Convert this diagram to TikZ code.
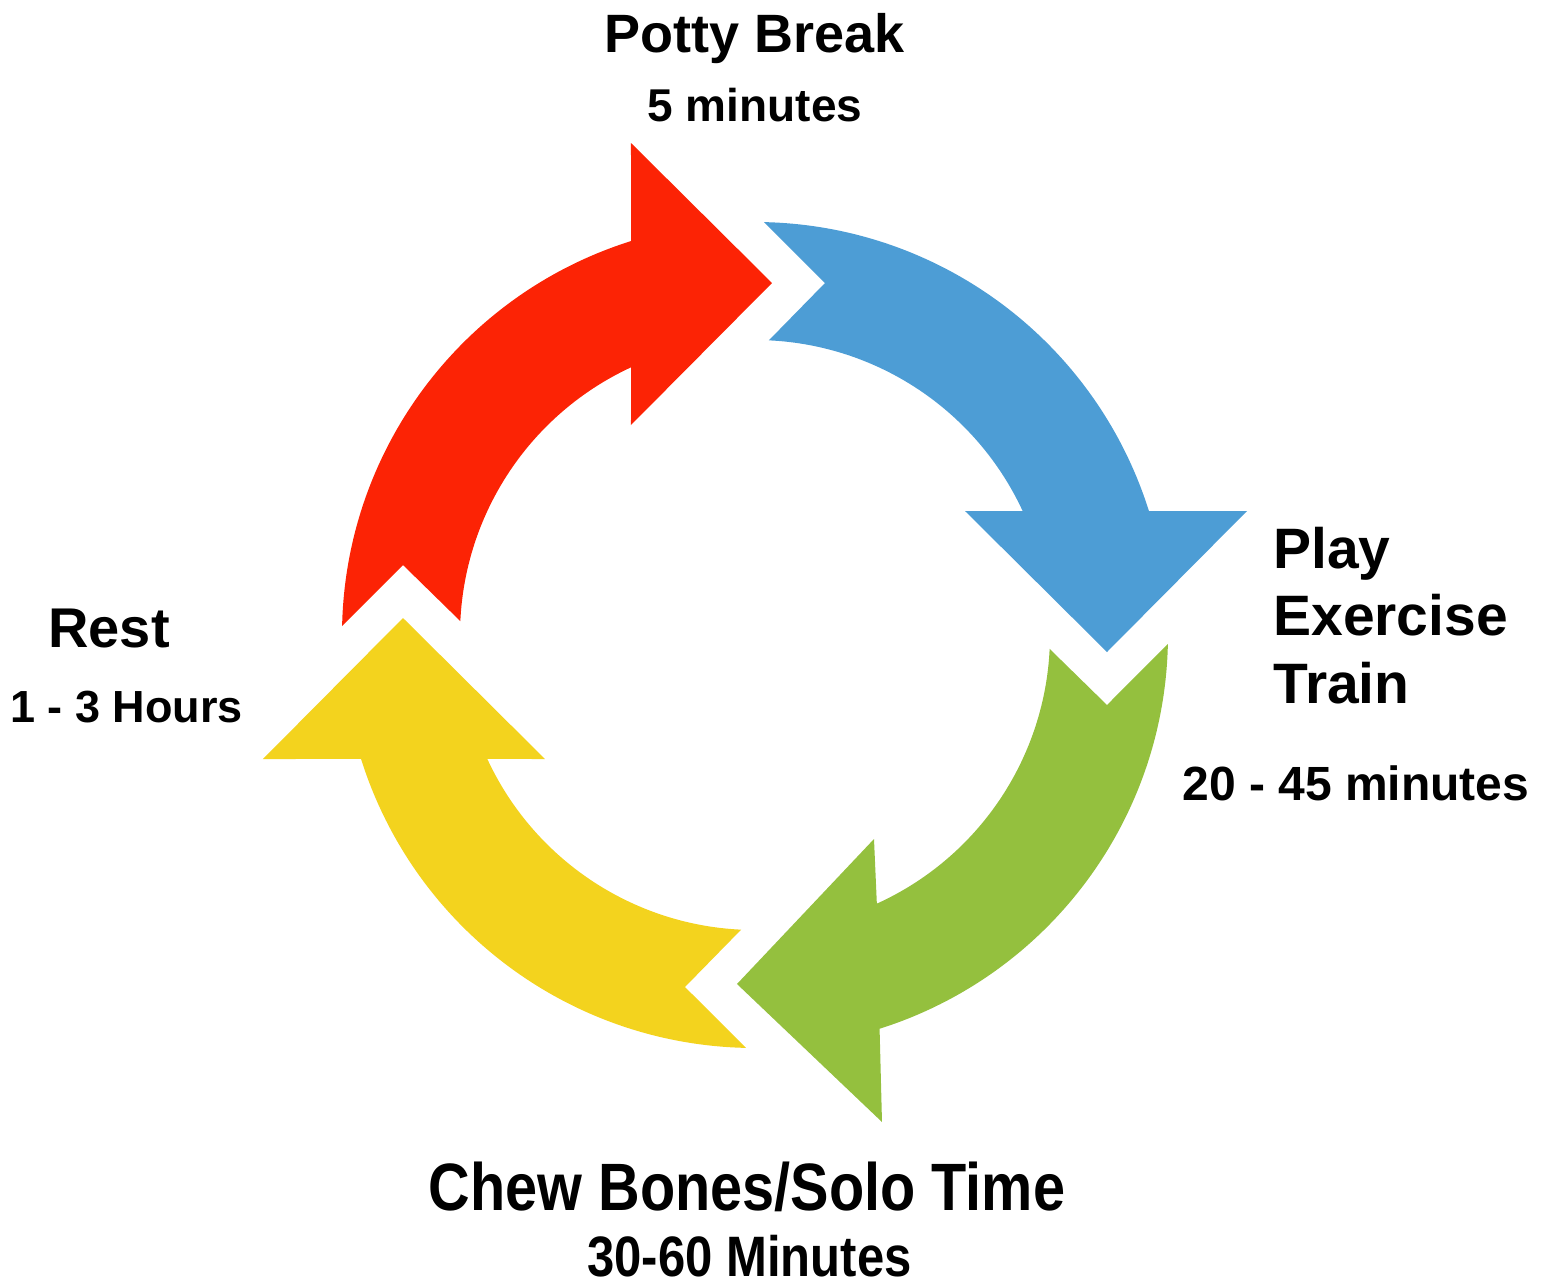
\documentclass[tikz,border=0pt]{standalone}
\usepackage{fontspec}
\setmainfont{Liberation Sans}
\newfontfamily\narrowsans{Liberation Sans}[FakeStretch=0.86]
\definecolor{pottyred}{RGB}{252,35,5}
\definecolor{playblue}{RGB}{77,157,213}
\definecolor{chewgreen}{RGB}{148,192,62}
\definecolor{restyellow}{RGB}{243,211,30}
\tikzset{
  txt/.style 2 args  = {inner sep=0pt, align=left, font=\fontsize{#1}{#2}\selectfont\bfseries},
  narrow/.style 2 args = {inner sep=0pt, font=\narrowsans\fontsize{#1}{#2}\selectfont\bfseries},
}
\begin{document}
\begin{tikzpicture}[x=0.5pt, y=0.5pt]
  \useasboundingbox (-755,-652) rectangle (788,635);
  \fill[pottyred] (178.75:413) arc[start angle=178.75, end angle=107.47, radius=413]
    -- (-124,492) -- (17,352) -- (-124,210)
    -- (114.85:295) arc[start angle=114.85, end angle=177.3, radius=295]
    -- (-352,70) -- cycle;
  \fill[playblue] (88.75:413) arc[start angle=88.75, end angle=17.47, radius=413]
    -- (492,124) -- (352,-17) -- (210,124)
    -- (24.85:295) arc[start angle=24.85, end angle=87.3, radius=295]
    -- (70,352) -- cycle;
  \fill[chewgreen] (358.75:413) arc[start angle=358.75, end angle=287.56, radius=413]
    -- (127,-487) -- (-18,-349) -- (119,-204)
    -- (294.4:295) arc[start angle=294.4, end angle=357.3, radius=295]
    -- (352,-70) -- cycle;
  \fill[restyellow] (268.75:413) arc[start angle=268.75, end angle=197.47, radius=413]
    -- (-492,-124) -- (-352,17) -- (-210,-124)
    -- (204.85:295) arc[start angle=204.85, end angle=267.3, radius=295]
    -- (-70,-352) -- cycle;
  \node[txt={27pt}{32pt}, anchor=base] (potty) at (0,583) {Potty Break};
  \node[txt={23pt}{28pt}, anchor=base] (pottytime) at (0,514) {5 minutes};
  \node[txt={28.5pt}{33.75pt}, anchor=base west] (play) at (518,-68) {Play\\Exercise\\Train};
  \node[txt={24pt}{29pt}, anchor=base west] (playtime) at (427,-165) {20 - 45 minutes};
  \node[txt={28pt}{33pt}, anchor=base west] (rest) at (-707,-12) {Rest};
  \node[txt={22.5pt}{27pt}, anchor=base west] (resttime) at (-745,-87) {1 - 3 Hours};
  \node[narrow={33.5pt}{40pt}, anchor=base] (chew) at (-8,-575) {Chew Bones/Solo Time};
  \node[narrow={28.5pt}{34pt}, anchor=base] (chewtime) at (-5.5,-641) {30-60 Minutes};
\end{tikzpicture}
\end{document}
